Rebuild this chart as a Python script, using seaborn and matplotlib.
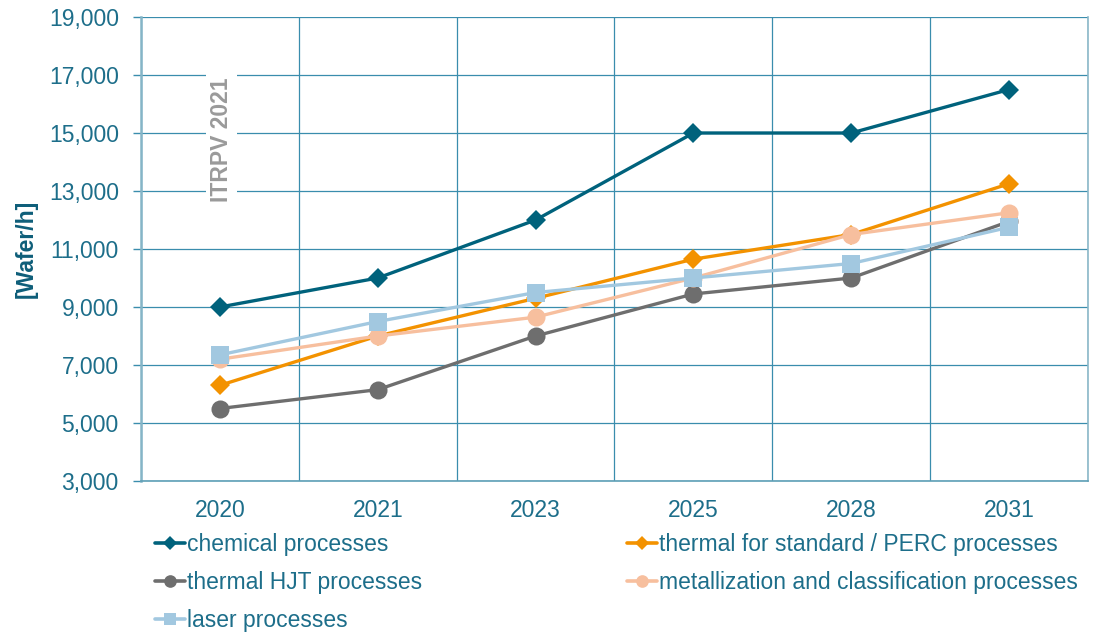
import matplotlib
matplotlib.use("Agg")
import matplotlib.pyplot as plt
from matplotlib.lines import Line2D
import seaborn as sns
import pandas as pd
import numpy as np

years = ["2020", "2021", "2023", "2025", "2028", "2031"]
chemical = [9000, 10000, 12000, 15000, 15000, 16500]
thermal_perc = [6300, 8000, 9300, 10650, 11500, 13250]
thermal_hjt = [5500, 6150, 8000, 9450, 10000, 11950]
metallization = [7200, 8000, 8650, 10000, 11500, 12250]
laser = [7350, 8500, 9500, 10000, 10500, 11750]

series_names = ["chemical processes", "thermal for standard / PERC processes",
                "thermal HJT processes", "metallization and classification processes",
                "laser processes"]
series_values = [chemical, thermal_perc, thermal_hjt, metallization, laser]
colors = ["#00627C", "#F39200", "#6E6E6E", "#F7BF9E", "#A2C8E0"]
markers = ["D", "D", "o", "o", "s"]
msizes = [10, 10, 13, 13, 13]

rows = []
for name, vals in zip(series_names, series_values):
    for y, v in zip(years, vals):
        rows.append({"year": y, "value": v, "series": name})
df = pd.DataFrame(rows)

sns.set_theme(style="white")
plt.rcParams["font.family"] = ["Liberation Sans", "DejaVu Sans"]

FS = 16.5

fig = plt.figure(figsize=(11.07, 6.33), dpi=100)
ax = fig.add_axes([141 / 1107, 1 - 481 / 633, (1088 - 141) / 1107, (481 - 17) / 633])

tick_col = "#1D6E8A"
grid_col = "#3A8DAD"

for name, col, mk, ms in zip(series_names, colors, markers, msizes):
    sub = df[df["series"] == name]
    sns.lineplot(data=sub, x="year", y="value", ax=ax, color=col, linewidth=2.4,
                 marker=mk, markersize=ms, markeredgewidth=0, sort=False,
                 legend=False, zorder=3)

ax.set_xlim(-0.5, len(years) - 0.5)
ax.set_ylim(3000, 19000)
ax.set_yticks(np.arange(3000, 19001, 2000))
ax.set_yticklabels([f"{v:,}" for v in range(3000, 19001, 2000)])
ax.set_xticks(range(len(years)))
ax.set_xticklabels(years)
ax.set_xticks(np.arange(-0.5, len(years)), minor=True)

ax.grid(False)
ax.yaxis.grid(True, color=grid_col, linewidth=0.9)
ax.xaxis.grid(True, which="minor", color=grid_col, linewidth=0.9)
ax.set_axisbelow(True)

ax.tick_params(axis="x", which="major", length=0, pad=13, labelsize=FS, labelcolor=tick_col)
ax.tick_params(axis="x", which="minor", length=6, width=1, color=grid_col, direction="out")
ax.tick_params(axis="y", which="major", length=6, width=1, color=grid_col, direction="out",
               pad=10, labelsize=FS, labelcolor=tick_col)
ax.tick_params(left=True, bottom=True)

for side in ["left", "right", "top", "bottom"]:
    ax.spines[side].set_visible(False)
ax.spines["left"].set_visible(True)
ax.spines["left"].set_color("#85B5C7")
ax.spines["left"].set_linewidth(1.8)
ax.spines["bottom"].set_visible(True)
ax.spines["bottom"].set_color("#5E9FB6")
ax.spines["bottom"].set_linewidth(1.2)
ax.spines["right"].set_visible(True)
ax.spines["right"].set_color("#8BB8C8")
ax.spines["right"].set_linewidth(1.2)

ax.set_xlabel("")
ax.set_ylabel("[Wafer/h]", fontsize=FS, fontweight="bold", color="#0E5E79", labelpad=8)

ax.text(0.01, 14750, "ITRPV 2021", rotation=90, ha="center", va="center",
        fontsize=FS, fontweight="bold", color="#9A9A9A", zorder=2,
        bbox=dict(facecolor="white", edgecolor="none", pad=3))

handles = [Line2D([0], [0], color=c, linewidth=2.6, marker=m, markersize=ms * 0.7,
                  markeredgewidth=0) for c, m, ms in zip(colors, markers, msizes)]
order = [0, 2, 4, 1, 3]
leg = fig.legend([handles[i] for i in order], [series_names[i] for i in order],
                 loc="upper left", bbox_to_anchor=(155 / 1107, 1 - 533 / 633),
                 ncol=2, frameon=False, fontsize=FS, handlelength=1.3,
                 handletextpad=0.1, columnspacing=8.95, labelspacing=0.66,
                 borderpad=0, borderaxespad=0)
for t in leg.get_texts():
    t.set_color(tick_col)

fig.savefig("out.png", dpi=100)
